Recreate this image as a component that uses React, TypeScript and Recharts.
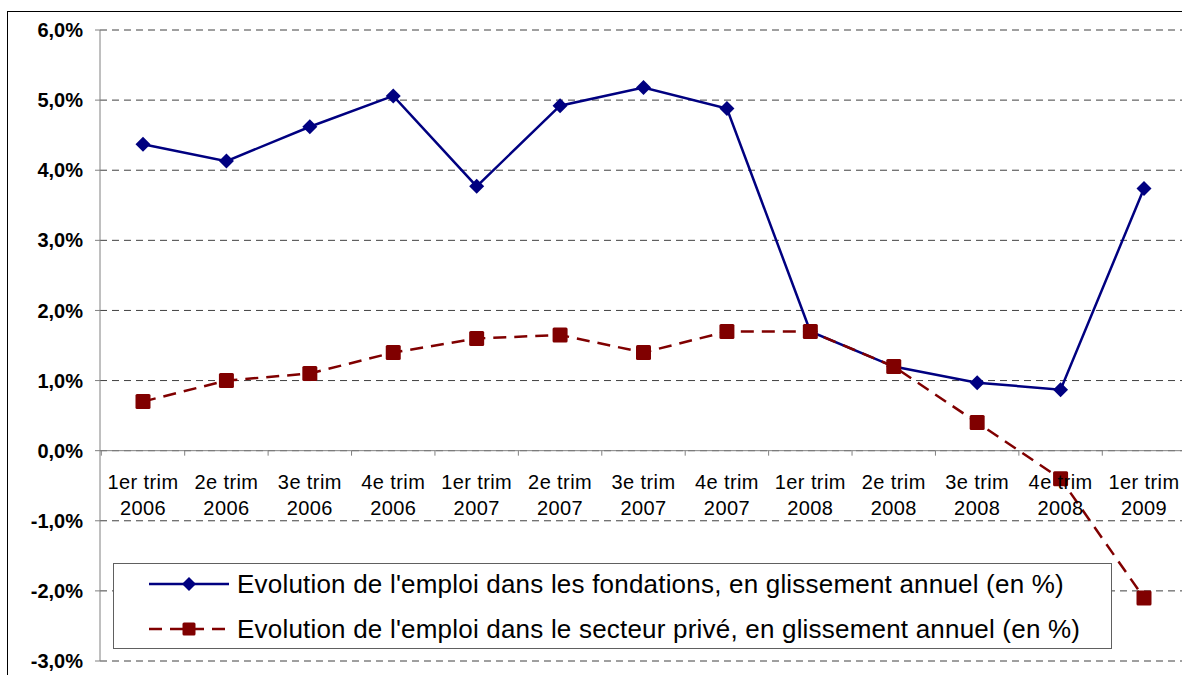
import { LineChart, Line, XAxis, YAxis, CartesianGrid, ReferenceLine, LabelList } from 'recharts'

// Quarter labels, two lines each
const quarters = ['1er trim', '2e trim', '3e trim', '4e trim', '1er trim', '2e trim', '3e trim', '4e trim', '1er trim', '2e trim', '3e trim', '4e trim', '1er trim']
const years = ['2006', '2006', '2006', '2006', '2007', '2007', '2007', '2007', '2008', '2008', '2008', '2008', '2009']

// Year-on-year change in employment (%)
const fondations = [4.37, 4.13, 4.62, 5.06, 3.77, 4.92, 5.18, 4.88, 1.7, 1.2, 0.97, 0.87, 3.74]
const prive = [0.7, 1.0, 1.1, 1.4, 1.6, 1.65, 1.4, 1.7, 1.7, 1.2, 0.4, -0.4, -2.1]

const yTicks = [-3, -2, -1, 0, 1, 2, 3, 4, 5, 6]

const legendLabels = [
  "Evolution de l'emploi dans les fondations, en glissement annuel (en %)",
  "Evolution de l'emploi dans le secteur privé, en glissement annuel (en %)",
]

const BLUE = '#000080'
const RED = '#800000'
const FONT = '"Liberation Sans", Arial, sans-serif'
const BAND = 83.4

const data = quarters.map((q, i) => ({
  key: `${q} ${years[i]}`,
  label: i,
  base: 0,
  fondations: fondations[i],
  prive: prive[i],
}))

const Diamond = (props: any) => {
  const { cx, cy } = props
  if (cx == null || cy == null) return null
  const r = 7.5
  return <polygon key={`d-${props.index}`} points={`${cx},${cy - r} ${cx + r},${cy} ${cx},${cy + r} ${cx - r},${cy}`} fill={BLUE} />
}

const Square = (props: any) => {
  const { cx, cy } = props
  if (cx == null || cy == null) return null
  const s = 15
  return <rect key={`s-${props.index}`} x={cx - s / 2} y={cy - s / 2} width={s} height={s} rx={1.5} fill={RED} />
}

// category labels drawn along the zero line
const XLabel = (props: any) => {
  const { x, y, index } = props
  if (x == null || y == null) return null
  const style = { fontSize: 20, fontFamily: FONT, letterSpacing: 0.4 }
  return (
    <g>
      {index === 0 && <line x1={x - BAND / 2} y1={y} x2={x - BAND / 2} y2={y + 5} stroke="#808080" />}
      <line x1={x + BAND / 2} y1={y} x2={x + BAND / 2} y2={y + 5} stroke="#808080" />
      <text x={x} y={y + 38} textAnchor="middle" fill="#000" style={style}>{quarters[index]}</text>
      <text x={x} y={y + 64} textAnchor="middle" fill="#000" style={style}>{years[index]}</text>
    </g>
  )
}

export default function App() {
  return (
    <div style={{ position: 'absolute', left: 0, top: 0, width: 1182, height: 675, overflow: 'hidden', background: '#fff', fontFamily: FONT }}>
      <div style={{ position: 'absolute', left: 7, top: 11, width: 1250, height: 750, border: '1px solid #000' }} />
      <div style={{ position: 'absolute', left: 0, top: 0 }}>
        <LineChart width={1190} height={675} data={data} margin={{ top: 30, right: 3, left: 0, bottom: 14 }}>
          <CartesianGrid vertical={false} stroke="#404040" strokeDasharray="7 5" />
          <XAxis dataKey="key" hide padding={{ left: 43, right: 43 }} />
          <YAxis
            width={100}
            domain={[-3, 6]}
            ticks={yTicks}
            interval={0}
            tickFormatter={(v: number) => v.toFixed(1).replace('.', ',') + '%'}
            tick={{ fontSize: 20, fontWeight: 'bold', fill: '#000', fontFamily: FONT }}
            axisLine={{ stroke: '#808080' }}
            tickLine={{ stroke: '#808080' }}
            tickSize={5}
            tickMargin={12}
          />
          <ReferenceLine y={0} stroke="#808080" />
          <Line dataKey="base" stroke="none" dot={false} activeDot={false} isAnimationActive={false}>
            <LabelList dataKey="label" content={(p: any) => <XLabel {...p} />} />
          </Line>
          <Line dataKey="fondations" stroke={BLUE} strokeWidth={2.5} dot={Diamond} activeDot={false} isAnimationActive={false} />
          <Line dataKey="prive" stroke={RED} strokeWidth={2.5} strokeDasharray="13 8" dot={Square} activeDot={false} isAnimationActive={false} />
        </LineChart>
      </div>
      <div style={{ position: 'absolute', left: 113, top: 563, width: 997, height: 84, border: '1px solid #606060', background: '#fff' }}>
        {legendLabels.map((label, i) => (
          <div key={label} style={{ position: 'absolute', left: 0, top: i === 0 ? 5 : 50, height: 30, display: 'flex', alignItems: 'center' }}>
            <svg width={120} height={30} style={{ display: 'block' }}>
              {i === 0 ? (
                <g>
                  <line x1={35} y1={15} x2={115} y2={15} stroke={BLUE} strokeWidth={2.5} />
                  <polygon points="75,8 82,15 75,22 68,15" fill={BLUE} />
                </g>
              ) : (
                <g>
                  <line x1={35} y1={15} x2={115} y2={15} stroke={RED} strokeWidth={2.5} strokeDasharray="13 8" />
                  <rect x={68.5} y={8.5} width={13} height={13} rx={1.5} fill={RED} />
                </g>
              )}
            </svg>
            <span style={{ fontSize: 26, color: '#000', marginLeft: 3, whiteSpace: 'nowrap', letterSpacing: 0.2 }}>{label}</span>
          </div>
        ))}
      </div>
    </div>
  )
}
